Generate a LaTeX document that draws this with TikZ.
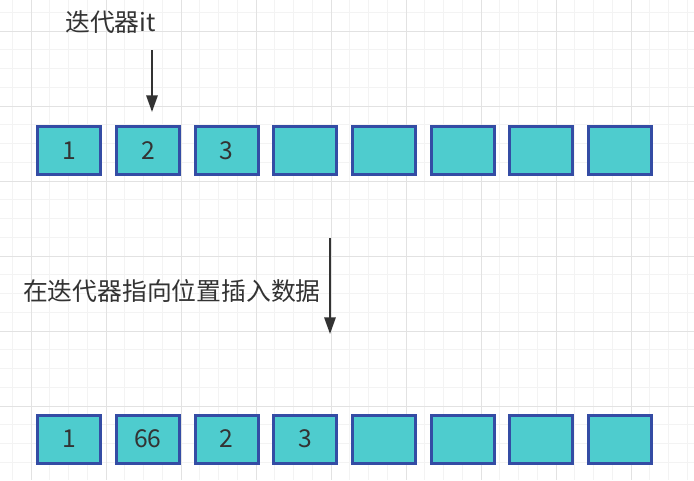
\documentclass[tikz,border=0pt]{standalone}
\usepackage{fontspec}
\setmainfont{Noto Sans CJK SC}
\usetikzlibrary{arrows.meta}
\definecolor{cellfill}{RGB}{78,204,206}
\definecolor{celldraw}{RGB}{52,76,164}
\definecolor{txt}{RGB}{51,51,51}
\definecolor{gridminor}{RGB}{243,243,243}
\definecolor{gridmajor}{RGB}{226,226,226}
\tikzset{
  cell/.style={draw=celldraw, fill=cellfill, line width=2.25pt, minimum width=63\pxu, minimum height=48\pxu, inner sep=0pt, text=txt, font=\fontsize{18.5pt}{20pt}\selectfont},
  lbl/.style={text=txt, inner sep=0pt, font=\fontsize{18.6pt}{20pt}\selectfont},
  arr/.style={draw=txt, line width=1.5pt, -{Triangle[length=12.5pt,width=8.5pt]}},
}
\newlength{\pxu}
\setlength{\pxu}{0.75pt}
\begin{document}
\begin{tikzpicture}[x=0.75pt,y=-0.75pt]
\useasboundingbox (0,0) rectangle (694,480);
\fill[white] (0,0) rectangle (694,480);
% grid
\foreach \i in {0,...,37} {
  \draw[gridminor, line width=0.75pt] ({12.25+18.75*\i},0) -- ({12.25+18.75*\i},480);
}
\foreach \i in {0,...,25} {
  \draw[gridminor, line width=0.75pt] (0,{12.25+18.75*\i}) -- (694,{12.25+18.75*\i});
}
\foreach \i in {0,...,8} {
  \draw[gridmajor, line width=0.75pt] ({31+75*\i},0) -- ({31+75*\i},480);
}
\foreach \i in {0,...,6} {
  \draw[gridmajor, line width=0.75pt] (0,{31+75*\i}) -- (694,{31+75*\i});
}
% top row
\node[cell] (t1) at (69,150.5) {1};
\node[cell] (t2) at (148,150.5) {2};
\node[cell] (t3) at (226.5,150.5) {3};
\node[cell] (t4) at (305,150.5) {};
\node[cell] (t5) at (384,150.5) {};
\node[cell] (t6) at (463,150.5) {};
\node[cell] (t7) at (540.5,150.5) {};
\node[cell] (t8) at (620,150.5) {};
% bottom row
\node[cell] (b1) at (69,439) {1};
\node[cell] (b2) at (148,439) {66};
\node[cell] (b3) at (226.5,439) {2};
\node[cell] (b4) at (305,439) {3};
\node[cell] (b5) at (384,439) {};
\node[cell] (b6) at (463,439) {};
\node[cell] (b7) at (540.5,439) {};
\node[cell] (b8) at (620,439) {};
% labels
\node[lbl] (itlbl) at (110.5,22) {迭代器it};
\node[lbl] (inslbl) at (172,291) {在迭代器指向位置插入数据};
% arrows
\coordinate (a1s) at (152,50);
\coordinate (a1e) at (152,112);
\coordinate (a2s) at (330,238);
\coordinate (a2e) at (330,334);
\draw[arr] (a1s) -- (a1e);
\draw[arr] (a2s) -- (a2e);
\end{tikzpicture}
\end{document}
